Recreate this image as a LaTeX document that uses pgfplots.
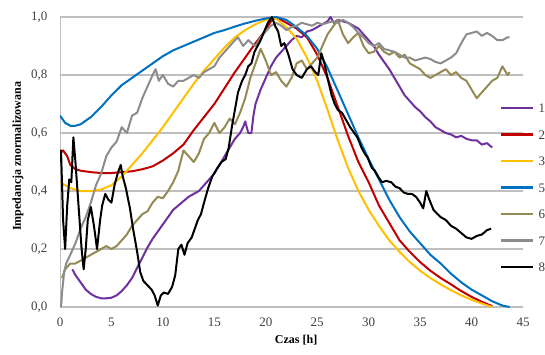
\documentclass[border=0pt]{standalone}
\usepackage{pgfplots}
\pgfplotsset{compat=1.18}
\usepackage{fontspec}
\setmainfont{Liberation Serif}
\definecolor{c1}{HTML}{7030A0}
\definecolor{c2}{HTML}{C00000}
\definecolor{c3}{HTML}{FFC000}
\definecolor{c5}{HTML}{0070C0}
\definecolor{c6}{HTML}{948A54}
\definecolor{c7}{HTML}{8C8C8C}
\definecolor{c8}{HTML}{000000}
\definecolor{gridc}{HTML}{BFBFBF}
\definecolor{tickc}{HTML}{404040}
\begin{document}
\begin{tikzpicture}
\useasboundingbox (-60pt,-47pt) rectangle (485pt,307pt);
\begin{axis}[
  at={(0,0)}, anchor=south west,
  scale only axis, width=463pt, height=290pt,
  xmin=0, xmax=45, ymin=0, ymax=1,
  xtick={0,5,...,45}, ytick={0,0.2,0.4,0.6,0.8,1.0},
  axis x line*=bottom, axis y line*=left,
  axis line style={draw=gridc, line width=0.8pt, -},
  major tick length=0pt,
  ymajorgrids, grid style={draw=gridc, line width=1.2pt},
  /pgf/number format/assume math mode=true,
  yticklabel={\pgfmathprintnumber[use comma, fixed, fixed zerofill, precision=1]{\tick}},
  ticklabel style={font=\fontsize{13}{14}\selectfont, text=tickc},
  yticklabel style={xshift=-9pt},
  xticklabel style={yshift=-7pt},
  xlabel={Czas [h]}, ylabel={Impedancja znormalizowana},
  label style={font=\fontsize{12}{14}\selectfont\bfseries},
  xlabel style={at={(axis description cs:0.51,-0.114)}, anchor=center},
  ylabel style={at={(axis description cs:-0.0907,0.52)}, anchor=center},
  every axis plot/.append style={line width=2pt, line join=round},
  legend image code/.code={\draw[#1] (0pt,0pt) -- (32pt,0pt);},
  legend image post style={line width=2.4pt},
  legend style={at={(axis description cs:0.9503,0.702)}, anchor=north west,
    draw=none, fill=none, inner sep=0pt, row sep=17.5pt, column sep=4pt,
    font=\fontsize{13}{14}\selectfont, text=tickc,
    nodes={inner sep=0pt, text height=9pt, text depth=0pt}},
]
% 1 purple
\addplot[c1] coordinates {(1.2,0.13)(1.5,0.11)(2,0.085)(2.5,0.06)(3,0.045)(3.5,0.035)(4,0.03)(4.5,0.03)(5,0.032)(5.5,0.04)(6,0.055)(6.5,0.075)(7,0.10)(7.5,0.135)(8,0.17)(8.5,0.205)(9,0.235)(9.5,0.26)(10,0.285)(10.5,0.31)(11,0.335)(11.5,0.35)(12,0.365)(12.5,0.38)(13,0.39)(13.5,0.40)(14,0.42)(14.5,0.44)(15,0.46)(15.5,0.49)(16,0.52)(16.5,0.55)(17,0.58)(17.5,0.60)(17.8,0.62)(18,0.64)(18.3,0.60)(18.6,0.60)(18.8,0.66)(19,0.70)(19.5,0.75)(20,0.79)(20.5,0.83)(21,0.86)(21.5,0.88)(22,0.90)(22.5,0.92)(23,0.935)(23.5,0.93)(24,0.95)(24.5,0.955)(25,0.965)(25.5,0.975)(26,0.985)(26.3,1.0)(26.6,0.98)(27,0.99)(27.5,0.985)(28,0.98)(28.5,0.97)(29,0.96)(29.5,0.94)(30,0.92)(30.5,0.90)(31,0.87)(31.5,0.845)(32,0.82)(32.5,0.79)(33,0.76)(33.5,0.73)(34,0.71)(34.5,0.69)(35,0.675)(35.5,0.655)(36,0.64)(36.5,0.62)(37,0.61)(37.5,0.60)(38,0.595)(38.5,0.585)(39,0.59)(39.5,0.58)(40,0.575)(40.5,0.575)(41,0.56)(41.5,0.565)(42,0.55)};
\addlegendentry{1}
% 2 red
\addplot[c2] coordinates {(0,0.53)(0.3,0.54)(0.7,0.52)(1,0.49)(1.5,0.475)(2,0.47)(3,0.465)(4,0.462)(5,0.462)(6,0.465)(7,0.468)(8,0.475)(9,0.485)(10,0.505)(11,0.53)(12,0.56)(13,0.61)(14,0.655)(15,0.70)(16,0.755)(17,0.81)(18,0.86)(19,0.91)(20,0.955)(20.5,0.985)(21,1.0)(22,0.98)(23,0.96)(24,0.93)(25,0.87)(26,0.79)(27,0.69)(28,0.59)(29,0.50)(30,0.43)(31,0.35)(32,0.29)(33,0.23)(34,0.19)(35,0.155)(36,0.125)(37,0.10)(38,0.078)(39,0.055)(40,0.035)(41,0.018)(42,0.003)};
\addlegendentry{2}
% 3 yellow
\addplot[c3] coordinates {(0,0.43)(0.5,0.42)(1,0.41)(2,0.40)(3,0.40)(4,0.405)(5,0.42)(6,0.45)(7,0.49)(8,0.53)(9,0.575)(10,0.62)(11,0.67)(12,0.72)(13,0.77)(14,0.815)(15,0.855)(16,0.895)(17,0.93)(18,0.955)(19,0.975)(20,0.99)(21,0.995)(22,0.965)(23,0.925)(24,0.86)(25,0.78)(26,0.68)(27,0.575)(28,0.48)(29,0.40)(30,0.335)(31,0.28)(32,0.23)(33,0.19)(34,0.155)(35,0.125)(36,0.10)(37,0.078)(38,0.058)(39,0.04)(40,0.025)(41,0.012)(42,0.0)};
\addlegendentry{3}
% 5 blue
\addplot[c5] coordinates {(0,0.66)(0.5,0.635)(1,0.625)(1.5,0.625)(2,0.63)(3,0.655)(4,0.69)(5,0.73)(6,0.765)(7,0.79)(8,0.815)(9,0.84)(10,0.865)(11,0.885)(12,0.90)(13,0.915)(14,0.93)(15,0.945)(16,0.955)(17,0.967)(18,0.978)(19,0.987)(20,0.995)(21,1.0)(22,0.99)(23,0.965)(24,0.935)(25,0.89)(26,0.825)(27,0.745)(28,0.665)(29,0.585)(30,0.51)(31,0.44)(32,0.37)(33,0.31)(34,0.26)(35,0.22)(36,0.18)(37,0.15)(38,0.115)(39,0.085)(40,0.06)(41,0.04)(42,0.02)(43,0.005)(43.7,0.0)};
\addlegendentry{5}
% 6 olive
\addplot[c6] coordinates {(0.2,0.10)(0.5,0.13)(1,0.15)(1.5,0.15)(2,0.16)(2.5,0.17)(3,0.18)(3.5,0.19)(4,0.20)(4.5,0.21)(5,0.20)(5.5,0.21)(6,0.23)(6.5,0.25)(7,0.28)(7.5,0.30)(8,0.32)(8.5,0.33)(9,0.36)(9.5,0.38)(10,0.375)(10.5,0.40)(11,0.43)(11.5,0.47)(12,0.54)(12.5,0.52)(13,0.50)(13.5,0.53)(14,0.58)(14.5,0.60)(15,0.635)(15.5,0.60)(16,0.62)(16.5,0.65)(17,0.63)(17.5,0.67)(18,0.72)(18.5,0.79)(19,0.84)(19.5,0.89)(20,0.85)(20.5,0.80)(21,0.81)(21.5,0.78)(22,0.76)(22.5,0.79)(23,0.84)(23.5,0.85)(24,0.82)(24.5,0.84)(25,0.86)(25.5,0.90)(26,0.94)(26.5,0.965)(27,0.99)(27.5,0.94)(28,0.91)(28.5,0.93)(29,0.945)(29.5,0.90)(30,0.875)(30.5,0.88)(31,0.90)(31.5,0.88)(32,0.87)(32.5,0.88)(33,0.86)(33.5,0.87)(34,0.84)(34.5,0.83)(35,0.82)(35.5,0.80)(36,0.79)(36.5,0.80)(37,0.81)(37.5,0.82)(38,0.80)(38.5,0.81)(39,0.79)(39.5,0.78)(40,0.75)(40.5,0.72)(41,0.74)(41.5,0.76)(42,0.78)(42.5,0.79)(43,0.83)(43.5,0.80)(43.7,0.81)};
\addlegendentry{6}
% 7 gray
\addplot[c7] coordinates {(0.1,0.0)(0.2,0.05)(0.4,0.12)(0.6,0.15)(1,0.18)(1.5,0.22)(2,0.27)(2.5,0.31)(3,0.36)(3.5,0.42)(4,0.46)(4.5,0.52)(5,0.55)(5.5,0.57)(6,0.62)(6.5,0.60)(7,0.66)(7.5,0.67)(8,0.72)(8.5,0.76)(9,0.80)(9.3,0.82)(9.6,0.78)(10,0.80)(10.5,0.77)(11,0.76)(11.5,0.78)(12,0.78)(12.5,0.79)(13,0.80)(13.5,0.79)(14,0.81)(14.5,0.82)(15,0.83)(15.5,0.86)(16,0.88)(16.5,0.90)(17,0.92)(17.3,0.93)(17.8,0.90)(18.3,0.92)(18.6,0.91)(19,0.90)(19.5,0.93)(20,0.95)(20.5,0.97)(21,0.98)(21.5,0.97)(22,0.955)(22.5,0.965)(23,0.97)(23.5,0.98)(24,0.975)(24.5,0.97)(25,0.98)(25.5,0.975)(26,0.98)(26.5,0.985)(27,0.98)(27.5,0.99)(28,0.98)(28.5,0.965)(29,0.945)(29.5,0.93)(30,0.91)(30.5,0.90)(31,0.91)(31.5,0.89)(32,0.885)(32.5,0.88)(33,0.87)(33.5,0.86)(34,0.86)(34.5,0.85)(35,0.855)(35.5,0.86)(36,0.855)(36.5,0.845)(37,0.84)(37.5,0.85)(38,0.86)(38.5,0.875)(39,0.91)(39.5,0.94)(40,0.945)(40.5,0.95)(41,0.935)(41.5,0.945)(42,0.935)(42.5,0.92)(43,0.92)(43.5,0.93)(43.7,0.93)};
\addlegendentry{7}
% 8 black
\addplot[c8] coordinates {(0,0.50)(0.1,0.54)(0.3,0.30)(0.5,0.20)(0.7,0.35)(0.9,0.44)(1.1,0.43)(1.3,0.585)(1.5,0.50)(1.7,0.40)(1.9,0.30)(2.1,0.20)(2.3,0.13)(2.5,0.20)(2.7,0.30)(3.0,0.345)(3.3,0.28)(3.6,0.20)(3.9,0.30)(4.1,0.35)(4.4,0.39)(4.7,0.37)(5.0,0.36)(5.3,0.42)(5.6,0.46)(5.9,0.49)(6.1,0.45)(6.4,0.41)(6.8,0.34)(7.1,0.27)(7.5,0.19)(7.8,0.12)(8.1,0.09)(8.5,0.075)(8.9,0.06)(9.2,0.04)(9.5,0.005)(9.8,0.04)(10.1,0.05)(10.5,0.045)(10.9,0.07)(11.2,0.11)(11.5,0.20)(11.8,0.215)(12.1,0.18)(12.4,0.22)(12.8,0.24)(13.1,0.27)(13.4,0.30)(13.7,0.32)(14.0,0.36)(14.4,0.41)(14.8,0.45)(15.3,0.48)(15.7,0.50)(16.1,0.51)(16.4,0.55)(16.7,0.62)(17.0,0.68)(17.3,0.74)(17.7,0.78)(18.0,0.80)(18.3,0.83)(18.6,0.84)(18.9,0.88)(19.2,0.90)(19.5,0.92)(19.9,0.955)(20.2,0.98)(20.6,1.0)(20.9,0.97)(21.2,0.95)(21.5,0.90)(21.8,0.91)(22.2,0.87)(22.6,0.82)(23.0,0.80)(23.5,0.79)(24.0,0.82)(24.4,0.83)(24.8,0.81)(25.1,0.80)(25.4,0.875)(25.7,0.84)(26.0,0.79)(26.4,0.73)(26.7,0.70)(27.0,0.68)(27.4,0.67)(27.8,0.645)(28.2,0.62)(28.6,0.60)(28.9,0.585)(29.3,0.55)(29.6,0.53)(29.9,0.515)(30.3,0.48)(30.6,0.47)(31.0,0.445)(31.3,0.43)(31.7,0.435)(32.2,0.43)(32.6,0.415)(33.0,0.41)(33.4,0.395)(33.8,0.39)(34.2,0.39)(34.6,0.38)(35.0,0.36)(35.3,0.34)(35.6,0.40)(35.9,0.37)(36.3,0.335)(36.7,0.32)(37.0,0.31)(37.5,0.30)(38.0,0.28)(38.5,0.27)(39.0,0.255)(39.5,0.24)(40.0,0.235)(40.5,0.245)(41.0,0.25)(41.5,0.265)(41.9,0.27)};
\addlegendentry{8}
\end{axis}
\end{tikzpicture}
\end{document}
